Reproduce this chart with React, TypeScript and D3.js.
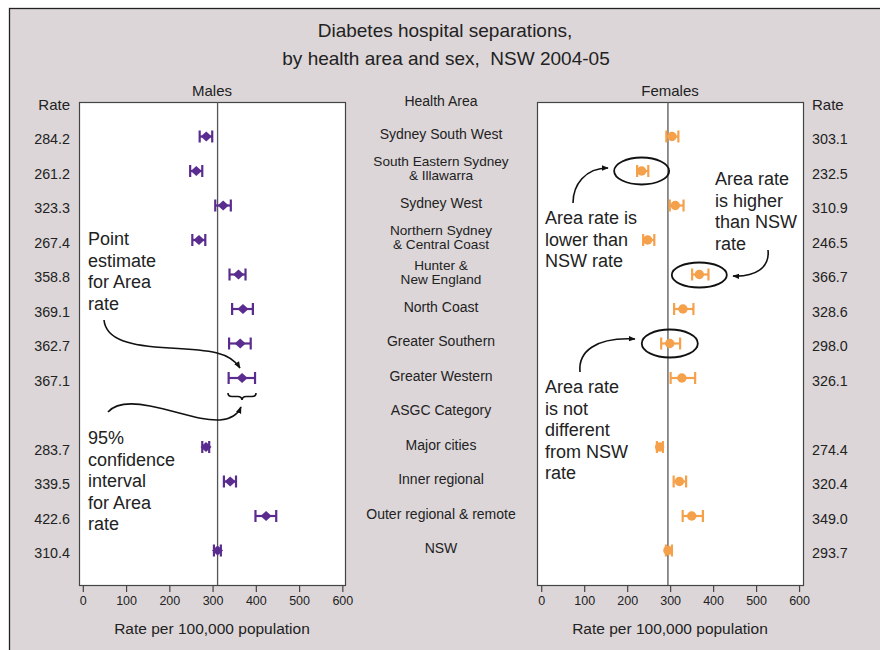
import React from "react";
import * as d3 from "d3";

const categories = [
  "Sydney South West",
  "South Eastern Sydney|& Illawarra",
  "Sydney West",
  "Northern Sydney|& Central Coast",
  "Hunter &|New England",
  "North Coast",
  "Greater Southern",
  "Greater Western",
  "ASGC Category",
  "Major cities",
  "Inner regional",
  "Outer regional & remote",
  "NSW",
];
const maleRate = [284.2, 261.2, 323.3, 267.4, 358.8, 369.1, 362.7, 367.1, null, 283.7, 339.5, 422.6, 310.4];
const maleLow = [269, 247, 305, 252, 338, 344, 337, 336, null, 275, 325, 398, 302];
const maleHigh = [298, 275, 341, 282, 375, 392, 387, 397, null, 291, 353, 446, 318];
const femaleRate = [303.1, 232.5, 310.9, 246.5, 366.7, 328.6, 298.0, 326.1, null, 274.4, 320.4, 349.0, 293.7];
const femaleLow = [290, 222, 298, 236, 350, 308, 278, 300, null, 268, 307, 328, 289];
const femaleHigh = [318, 248, 330, 262, 388, 353, 322, 357, null, 282, 336, 375, 303];
const nswMale = 310.4;
const nswFemale = 293.7;
const xTicks = [0, 100, 200, 300, 400, 500, 600];

const FONT = "'Liberation Sans', Arial, Helvetica, sans-serif";
const TEXT = "#222";
const PURPLE = "#5b2c8f";
const ORANGE = "#f5a04a";

const yScale = d3.scaleLinear().domain([0, 12]).range([139, 553]);
const xMale = d3.scaleLinear().domain([-10, 605]).range([79, 345]);
const xFemale = d3.scaleLinear().domain([-11, 608]).range([537, 803]);
const BOX_TOP = 102;
const BOX_BOT = 585;

function Panel({ x, rate, low, high, nsw, color, shape, title }: any) {
  const [x0, x1] = x.range();
  return (
    <g>
      <rect x={x0 + 0.5} y={BOX_TOP + 0.5} width={x1 - x0} height={BOX_BOT - BOX_TOP} fill="#fff" stroke="#444" strokeWidth={1.2} />
      <text x={(x0 + x1) / 2} y={90} textAnchor="middle" dominantBaseline="central" fontSize={15} fill={TEXT}>{title}</text>
      <line x1={x(nsw)} x2={x(nsw)} y1={BOX_TOP} y2={BOX_BOT} stroke="#555" strokeWidth={1.3} />
      {xTicks.map((t) => (
        <g key={t}>
          <line x1={x(t)} x2={x(t)} y1={BOX_BOT} y2={BOX_BOT + 7} stroke="#444" strokeWidth={1.2} />
          <text x={x(t)} y={601} textAnchor="middle" dominantBaseline="central" fontSize={12.5} fill={TEXT}>{t}</text>
        </g>
      ))}
      <text x={(x0 + x1) / 2} y={628} textAnchor="middle" dominantBaseline="central" fontSize={15.5} fill={TEXT}>Rate per 100,000 population</text>
      {rate.map((r: number | null, i: number) => {
        if (r == null) return null;
        const cy = yScale(i) - 2.5;
        const lx = x(low[i]);
        const hx = x(high[i]);
        const cx = x(r);
        return (
          <g key={i} stroke={color} fill={color}>
            <line x1={lx} x2={hx} y1={cy} y2={cy} strokeWidth={2.2} />
            <line x1={lx} x2={lx} y1={cy - 6} y2={cy + 6} strokeWidth={2.2} />
            <line x1={hx} x2={hx} y1={cy - 6} y2={cy + 6} strokeWidth={2.2} />
            {shape === "diamond" ? (
              <path d={`M${cx - 5.5},${cy} L${cx},${cy - 5} L${cx + 5.5},${cy} L${cx},${cy + 5} Z`} stroke="none" />
            ) : (
              <circle cx={cx} cy={cy} r={4.7} stroke="none" />
            )}
          </g>
        );
      })}
    </g>
  );
}

function Lines({ x, ys, lines, size = 18 }: any) {
  return (
    <>
      {lines.map((l: string, i: number) => (
        <text key={i} x={x} y={ys + i * 21.5} dominantBaseline="central" fontSize={size} fill={TEXT}>{l}</text>
      ))}
    </>
  );
}

export default function App() {
  return (
    <svg width={880} height={650} style={{ position: "absolute", left: 0, top: 0 }} fontFamily={FONT}>
      <defs>
        <marker id="ah" viewBox="0 0 10 10" refX="9" refY="5" markerWidth="7" markerHeight="7" orient="auto-start-reverse" markerUnits="userSpaceOnUse">
          <path d="M0,1 L10,5 L0,9 Z" fill="#111" />
        </marker>
      </defs>
      <rect x={0} y={0} width={880} height={650} fill="#fff" />
      <rect x={9.5} y={8.5} width={900} height={700} fill="#dcd6d8" stroke="#222" strokeWidth={1.3} />
      <text x={445} y={30} textAnchor="middle" dominantBaseline="central" fontSize={19} fill={TEXT}>Diabetes hospital separations,</text>
      <text x={446} y={58} textAnchor="middle" dominantBaseline="central" fontSize={19} fill={TEXT} style={{ whiteSpace: "pre" }}>{"by health area and sex,  NSW 2004-05"}</text>

      <Panel x={xMale} rate={maleRate} low={maleLow} high={maleHigh} nsw={nswMale} color={PURPLE} shape="diamond" title="Males" />
      <Panel x={xFemale} rate={femaleRate} low={femaleLow} high={femaleHigh} nsw={nswFemale} color={ORANGE} shape="circle" title="Females" />

      {/* Rate headers & values */}
      <text x={70} y={yScale(-1)} textAnchor="end" dominantBaseline="central" fontSize={15} fill={TEXT}>Rate</text>
      <text x={812} y={yScale(-1)} textAnchor="start" dominantBaseline="central" fontSize={15} fill={TEXT}>Rate</text>
      {maleRate.map((r, i) => r == null ? null : (
        <text key={"m" + i} x={70} y={yScale(i)} textAnchor="end" dominantBaseline="central" fontSize={14.3} fill={TEXT}>{r.toFixed(1)}</text>
      ))}
      {femaleRate.map((r, i) => r == null ? null : (
        <text key={"f" + i} x={812} y={yScale(i)} textAnchor="start" dominantBaseline="central" fontSize={14.3} fill={TEXT}>{r.toFixed(1)}</text>
      ))}

      {/* Category labels */}
      <text x={441} y={yScale(-1) - 4} textAnchor="middle" dominantBaseline="central" fontSize={14} fill={TEXT}>Health Area</text>
      {categories.map((c, i) => {
        const parts = c.split("|");
        const gap = 14;
        const base = yScale(i) - 5 - ((parts.length - 1) * gap) / 2;
        return parts.map((p, j) => (
          <text key={i + "-" + j} x={441} y={base + j * gap} textAnchor="middle" dominantBaseline="central" fontSize={parts.length > 1 ? 13.6 : 14} fill={TEXT}>{p}</text>
        ));
      })}

      {/* Male annotations */}
      <Lines x={88} ys={239} lines={["Point", "estimate", "for Area", "rate"]} />
      <Lines x={88} ys={438} lines={["95%", "confidence", "interval", "for Area", "rate"]} />
      <path d="M104,320 C106,340 130,346 170,348 S230,352 240,368" fill="none" stroke="#111" strokeWidth={1.6} markerEnd="url(#ah)" />
      <path d="M108,412 C115,404 130,402 150,406 C180,412 200,421 220,420 C232,419 238,414 241,407" fill="none" stroke="#111" strokeWidth={1.6} markerEnd="url(#ah)" />
      <path d="M228,393 Q228,396.5 232,396.5 L238,396.5 Q241.5,396.5 242,400 Q242.5,396.5 246,396.5 L252,396.5 Q256,396.5 256,393" fill="none" stroke="#111" strokeWidth={1.6} />

      {/* Female annotations */}
      <Lines x={545} ys={218} lines={["Area rate is", "lower than", "NSW rate"]} />
      <Lines x={715} ys={179} lines={["Area rate", "is higher", "than NSW", "rate"]} />
      <Lines x={545} ys={387} lines={["Area rate", "is not", "different", "from NSW", "rate"]} />
      <ellipse cx={xFemale(femaleRate[1] as number)} cy={yScale(1) - 2.5} rx={27.5} ry={13.5} fill="none" stroke="#111" strokeWidth={1.8} />
      <ellipse cx={xFemale(femaleRate[4] as number)} cy={yScale(4) - 2} rx={27.5} ry={12.5} fill="none" stroke="#111" strokeWidth={1.8} />
      <ellipse cx={xFemale(femaleRate[6] as number)} cy={yScale(6) - 2.5} rx={28} ry={14} fill="none" stroke="#111" strokeWidth={1.8} />
      <path d="M573,203 C573,185 585,168 608,168" fill="none" stroke="#111" strokeWidth={1.6} markerEnd="url(#ah)" />
      <path d="M768,250 C770,268 755,277 733,276" fill="none" stroke="#111" strokeWidth={1.6} markerEnd="url(#ah)" />
      <path d="M580,372 C578,352 595,337 635,339" fill="none" stroke="#111" strokeWidth={1.6} markerEnd="url(#ah)" />
    </svg>
  );
}
